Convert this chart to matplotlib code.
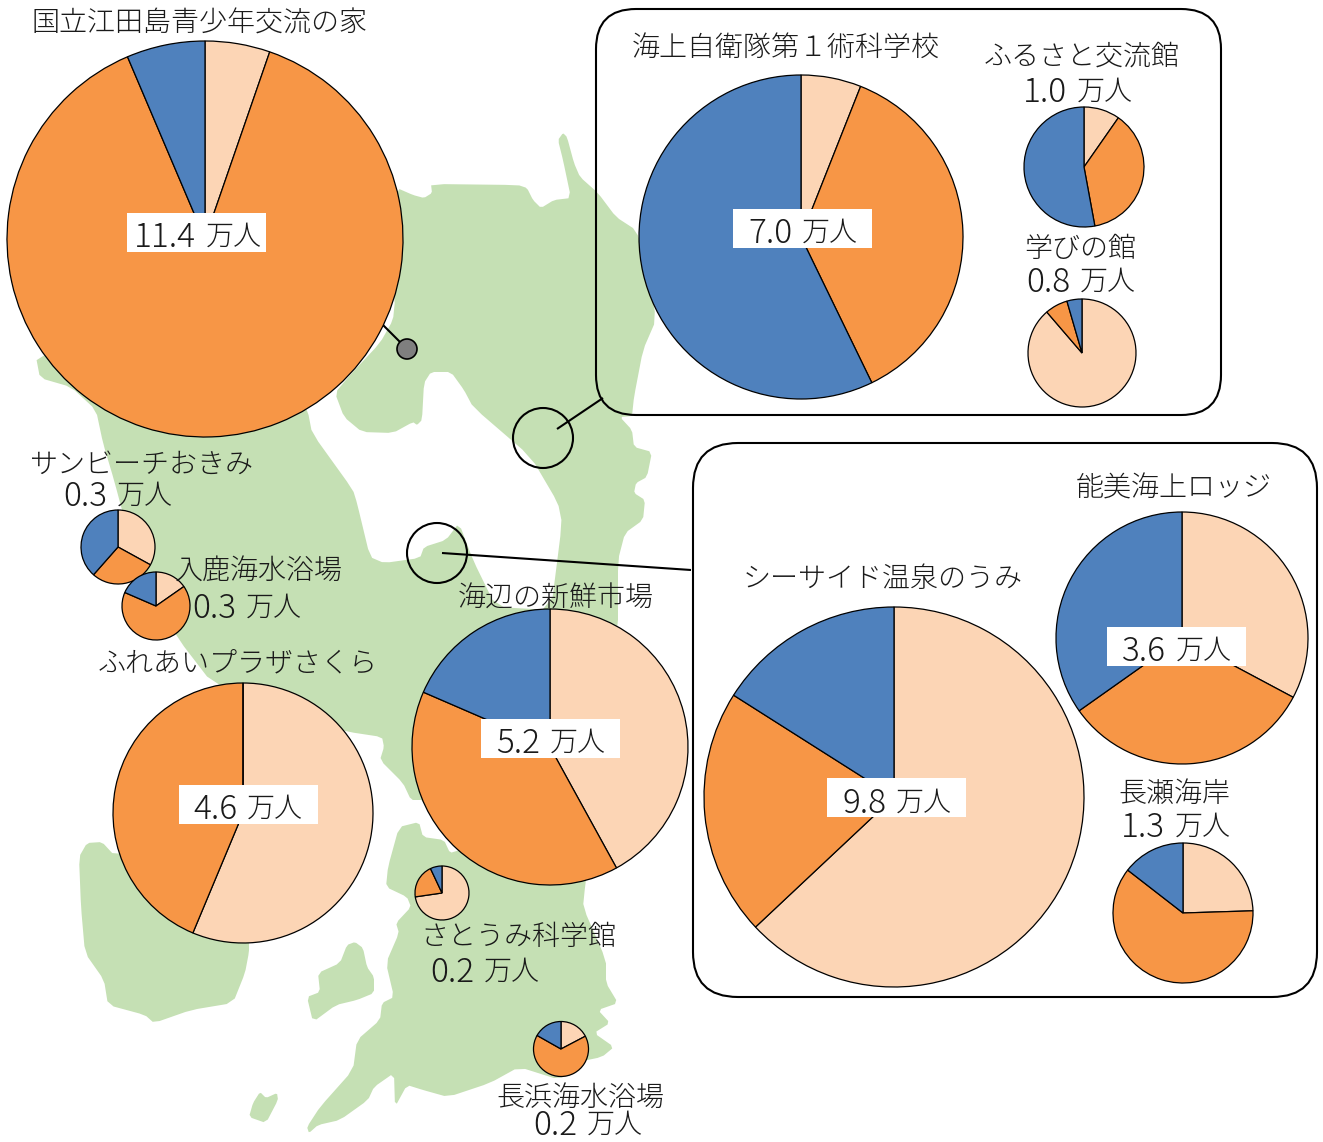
import matplotlib
matplotlib.use("Agg")
import matplotlib.pyplot as plt
from matplotlib.patches import Polygon, Circle, FancyBboxPatch, Rectangle
import numpy as np

plt.rcParams['font.family'] = ['Noto Sans CJK JP', 'DejaVu Sans']

W, H = 1323, 1142

# ---- data (share of visitors, %, clockwise from 12 o'clock) ----
sites = ["国立江田島青少年交流の家", "海上自衛隊第１術科学校", "ふるさと交流館", "学びの館",
         "シーサイド温泉のうみ", "能美海上ロッジ", "長瀬海岸", "サンビーチおきみ",
         "入鹿海水浴場", "ふれあいプラザさくら", "海辺の新鮮市場", "さとうみ科学館", "長浜海水浴場"]
totals = [11.4, 7.0, 1.0, 0.8, 9.8, 3.6, 1.3, 0.3, 0.3, 4.6, 5.2, 0.2, 0.2]
share_peach = [5.3, 6.0, 9.7, 88.7, 63.0, 32.8, 24.5, 33.0, 15.3, 56.3, 42.0, 72.7, 17.3]
share_orange = [88.3, 36.8, 37.4, 6.8, 21.0, 32.4, 61.0, 28.5, 66.2, 43.7, 39.5, 20.3, 65.9]
share_blue = [6.4, 57.2, 52.9, 4.5, 16.0, 34.8, 14.5, 38.5, 18.5, 0.0, 18.5, 7.0, 16.8]

# ---- layout ----
pie_centers = [(205, 239), (801, 237), (1084, 167), (1082, 353), (894, 797), (1182, 638),
               (1183, 913), (118, 547), (156, 606), (243, 813), (550, 747), (442, 893), (561, 1049)]
pie_radii = [198, 162, 60, 54, 190, 126, 70, 37, 34, 130, 138, 27, 27.5]
name_pos = [(200, 24), (786, 48), (1082, 57), (1080, 249), (883, 579), (1174, 489), (1174, 794),
            (142, 465), (259, 571), (238, 663), (556, 599), (518, 937), (580, 1098)]
value_pos = [(198, 234), (803, 230), (1078, 89), (1081, 279), (897, 800), (1177, 648), (1176, 824),
             (118, 493), (247, 605), (248, 806), (551, 740), (485, 969), (588, 1122)]
boxed = {0: (127, 213), 1: (733, 209), 4: (827, 778), 5: (1107, 627), 9: (179, 785), 10: (481, 719)}
BOX_W, BOX_H = 139, 39

PEACH, ORANGE, BLUE, GREEN = "#FCD5B5", "#F79646", "#4F81BD", "#C5E0B4"
INK = "#1a1a1a"

main_land = [(563,133),(567,137),(574,163),(580,177),(598,193),(616,217),(636,230),(648,265),(656,320),
    (643,350),(634,397),(632,416),(620,417),(632,430),(634,447),(652,452),(647,477),(636,483),(634,493),
    (645,500),(643,520),(625,533),(618,560),(618,630),(585,887),(583,907),(606,960),(606,983),(618,1003),
    (598,1010),(610,1023),(594,1033),(614,1047),(602,1057),(573,1063),(560,1080),(519,1067),(490,1083),
    (448,1097),(423,1090),(407,1085),(395,1107),(394,1073),(374,1087),(368,1100),(340,1120),(318,1125),
    (309,1133),(307,1127),(320,1107),(353,1070),(357,1040),(380,1020),(382,1003),(394,997),(386,963),
    (399,933),(396,923),(411,907),(407,897),(386,887),(388,867),(399,827),(419,822),(423,837),(444,840),
    (450,853),(460,850),(423,800),(411,800),(403,783),(380,760),(384,747),(382,737),(349,732),(300,720),
    (212,683),(179,640),(150,590),(130,540),(114,480),(103,443),(96,410),(71,387),(40,378),(36,357),
    (100,340),(300,400),(308,412),(312,433),(353,490),(357,503),(370,557),(384,563),(420,558),(424,547),
    (446,540),(459,523),(473,560),(496,607),(551,610),(562,523),(558,503),(531,457),(473,407),(464,390),
    (451,372),(431,372),(424,383),(422,420),(417,425),(413,422),(393,433),(362,432),(344,417),(335,393),
    (350,375),(380,343),(393,320),(395,300),(385,240),(397,188),(413,195),(424,198),(432,193),(431,184),
    (518,185),(527,188),(533,200),(541,208),(554,200),(571,198),(563,160),(558,140)]
sw_island = [(81,907),(79,857),(87,843),(102,842),(114,855),(200,850),(249,940),(249,952),(245,973),(233,1003),
    (191,1010),(154,1023),(145,1015),(108,1005),(104,980),(85,953)]
mid_island = [(355,942),(363,948),(367,967),(374,977),(374,993),(357,1000),(336,1005),(313,1022),(307,997),
    (320,992),(318,973),(340,963),(347,945)]
tiny_island = [(260,1092),(266,1098),(277,1093),(278,1100),(266,1123),(249,1117),(253,1103)]


def smooth(pts, n=1):
    p = np.array(pts, float)
    for _ in range(n):
        q = np.roll(p, -1, axis=0)
        p = np.column_stack([0.85 * p + 0.15 * q, 0.15 * p + 0.85 * q]).reshape(-1, 2)
    return p


def flip(p):
    p = np.asarray(p, float).copy()
    p[:, 1] = H - p[:, 1]
    return p


fig = plt.figure(figsize=(W / 100, H / 100), dpi=100)
ax = fig.add_axes([0, 0, 1, 1])

for shape in (main_land, sw_island, mid_island, tiny_island):
    ax.add_patch(Polygon(flip(smooth(shape)), closed=True, facecolor=GREEN, edgecolor="none", zorder=1))

# leaders and locator circles
for (x0, y0), (x1, y1) in [((383, 325), (407, 349)), ((557, 429), (603, 398)), ((442, 553), (691, 570))]:
    ax.plot([x0, x1], [H - y0, H - y1], color="black", lw=1.5, zorder=2, solid_capstyle="butt")
ax.add_patch(Circle((407, H - 349), 10, facecolor="#7F7F7F", edgecolor="black", lw=1.2, zorder=2))
for c in [(543, 438), (437, 553)]:
    ax.add_patch(Circle((c[0], H - c[1]), 30, facecolor="none", edgecolor="black", lw=1.5, zorder=2))

# group frames
for x0, y0, x1, y1, r in [(596, 9, 1221, 415, 40), (693, 443, 1317, 997, 45)]:
    ax.add_patch(FancyBboxPatch((x0 + r, H - y1 + r), x1 - x0 - 2 * r, y1 - y0 - 2 * r,
                                boxstyle=f"round,pad={r},rounding_size={r}",
                                facecolor="none", edgecolor="black", lw=1.5, zorder=2))

# pies
for i in range(len(sites)):
    cx, cy = pie_centers[i]
    ax.pie([share_peach[i], share_orange[i], share_blue[i]], colors=[PEACH, ORANGE, BLUE],
           startangle=90, counterclock=False, center=(cx, H - cy), radius=pie_radii[i],
           wedgeprops=dict(edgecolor="black", linewidth=0.9, zorder=3))

ax.set_xlim(0, W)
ax.set_ylim(0, H)
ax.set_aspect("auto")
ax.axis("off")

# labels
renderer = fig.canvas.get_renderer()
for i, name in enumerate(sites):
    x, y = name_pos[i]
    ax.text(x, H - y, name, fontsize=20.2, fontweight="light", ha="center", va="center", color=INK, zorder=6)
    if i in boxed:
        bx, by = boxed[i]
        ax.add_patch(Rectangle((bx, H - by - BOX_H), BOX_W, BOX_H, facecolor="white", edgecolor="none", zorder=5))
    x, y = value_pos[i]
    # the figures are set larger than the unit, as in the reference
    num = ax.text(0, H - y, f"{totals[i]:.1f}", fontsize=24, fontweight="light", ha="left",
                  va="center_baseline", color=INK, zorder=6)
    unit = ax.text(0, H - y, "万人", fontsize=20.2, fontweight="light", ha="left",
                   va="center_baseline", color=INK, zorder=6)
    wn = num.get_window_extent(renderer).width
    wu = unit.get_window_extent(renderer).width
    gap = 10
    start = x - (wn + gap + wu) / 2
    num.set_x(start)
    unit.set_x(start + wn + gap)

fig.savefig("out.png", dpi=100, facecolor="white")
